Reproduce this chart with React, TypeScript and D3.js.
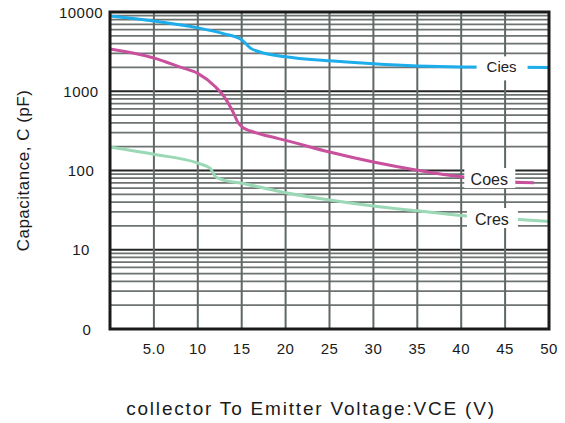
import React from 'react';
import * as d3 from 'd3';

// Chart size and plot box
const width = 565;
const height = 423;
const margin = { top: 12, right: 16, bottom: 94, left: 110 };

// Collector-emitter voltage (V) and capacitance (pF) for each curve
const ciesVce = [0, 5, 10, 13, 15, 15.5, 16, 17, 20, 25, 30, 35, 40, 50];
const ciesCap = [8900, 7700, 6300, 5300, 4450, 3950, 3500, 3150, 2720, 2420, 2220, 2090, 2030, 2000];

const coesVce = [0, 5, 8, 10, 12, 13, 14, 14.6, 15.2, 16, 18, 20, 25, 30, 35, 40, 46, 48.3];
const coesCap = [3410, 2630, 2020, 1680, 1140, 853, 552, 400, 344, 315, 272, 240, 171, 128, 101, 83.5, 71.6, 70];

const cresVce = [0, 5, 10, 11.4, 12, 12.6, 15, 20, 25, 30, 35, 40, 47, 50];
const cresCap = [198, 160, 124, 107, 84, 78, 69, 52.5, 42.5, 35.7, 31, 27, 23.9, 22.7];

// Axis ticks
const xTicks = [5, 10, 15, 20, 25, 30, 35, 40, 45, 50];
const xTickLabels = ['5.0', '10', '15', '20', '25', '30', '35', '40', '45', '50'];
const yTicks = [10000, 1000, 100, 10, 1];
const yTickLabels = ['10000', '1000', '100', '10', '0'];

// Curve labels: name, position in data units
const labelNames = ['Cies', 'Coes', 'Cres'];
const labelVce = [44.6, 43.2, 43.5];
const labelCap = [2000, 78, 24.4];

const App = () => {
    const x = d3.scaleLinear().domain([0, 50]).range([margin.left, width - margin.right]);
    const y = d3.scaleLog().domain([1, 10000]).range([height - margin.bottom, margin.top]);

    const line = d3.line<[number, number]>()
        .x(d => x(d[0]))
        .y(d => y(d[1]))
        .curve(d3.curveMonotoneX);

    const series = [
        { vce: ciesVce, cap: ciesCap, color: '#1cadea' },
        { vce: coesVce, cap: coesCap, color: '#c8509d' },
        { vce: cresVce, cap: cresCap, color: '#9bd8b6' },
    ];

    // minor grid lines 2..9 in each decade, major at decades
    const minor: number[] = [];
    [1, 10, 100, 1000].forEach(d => {
        for (let k = 2; k <= 9; k++) minor.push(k * d);
    });
    const major = [10, 100, 1000];

    const font = 'Arial, "Liberation Sans", Helvetica, sans-serif';
    const x0 = margin.left;
    const x1 = width - margin.right;
    const y0 = height - margin.bottom;
    const y1 = margin.top;

    return (
        <svg width={width} height={height} style={{ position: 'absolute', left: 0, top: 0, background: '#fff' }}>
            <rect width={width} height={height} fill="#fff" />

            {/* horizontal grid */}
            {minor.map(v => (
                <line key={'m' + v} x1={x0} x2={x1} y1={y(v)} y2={y(v)} stroke="#6c7370" strokeWidth={1.8} />
            ))}
            {major.map(v => (
                <line key={'M' + v} x1={x0} x2={x1} y1={y(v)} y2={y(v)} stroke="#262626" strokeWidth={2} />
            ))}

            {/* vertical grid */}
            {xTicks.slice(0, -1).map(t => (
                <line key={'v' + t} x1={x(t)} x2={x(t)} y1={y1} y2={y0} stroke="#5f6964" strokeWidth={2} />
            ))}

            {/* curves */}
            {series.map((s, i) => (
                <path key={i}
                    d={line(s.vce.map((v, j) => [v, s.cap[j]] as [number, number])) || ''}
                    fill="none" stroke={s.color} strokeWidth={3} />
            ))}

            {/* plot border */}
            <rect x={x0} y={y1} width={x1 - x0} height={y0 - y1} fill="none" stroke="#1a1a1a" strokeWidth={3} />

            {/* curve labels on white boxes */}
            {labelNames.map((n, i) => (
                <g key={n} transform={`translate(${x(labelVce[i])},${y(labelCap[i])})`}>
                    <rect x={-25} y={-11} width={51} height={i === 0 ? 24 : 20} fill="#fff" />
                    <text textAnchor="middle" y={i === 0 ? 5 : 6} fontFamily={font}
                        fontSize={i === 0 ? 15 : 16} fill="#222">{n}</text>
                </g>
            ))}

            {/* y tick labels */}
            {yTicks.map((t, i) => (
                <text key={'yl' + t} x={x0 - 29 + (t === 1 ? 6 : 0)} y={y(t) + 5.5} textAnchor="middle"
                    fontFamily={font} fontSize={15} letterSpacing={0.5} fill="#1a1a1a">{yTickLabels[i]}</text>
            ))}

            {/* x tick labels */}
            {xTicks.map((t, i) => (
                <text key={'xl' + t} x={x(t)} y={y0 + 25} textAnchor="middle"
                    fontFamily={font} fontSize={15} letterSpacing={0.5} fill="#1a1a1a">{xTickLabels[i]}</text>
            ))}

            {/* axis titles */}
            <text x={311} y={415} textAnchor="middle" fontFamily={font} fontSize={19}
                letterSpacing={1.8} fill="#1a1a1a">collector To Emitter Voltage:VCE (V)</text>
            <text transform={`translate(29,${(y0 + y1) / 2}) rotate(-90)`} textAnchor="middle"
                fontFamily={font} fontSize={17} letterSpacing={0.5} fill="#1a1a1a">Capacitance, C (pF)</text>
        </svg>
    );
};

export default App;
